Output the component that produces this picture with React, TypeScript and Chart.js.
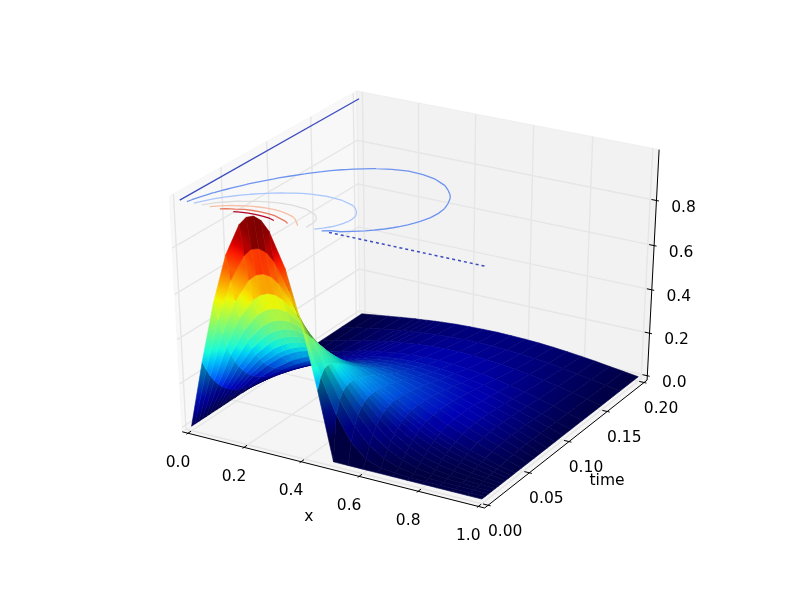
import React, { useEffect, useRef } from "react";
import { Chart, registerables } from "chart.js";
Chart.register(...registerables);

const xGrid = [0, .05, .1, .15, .2, .225, .25, .275, .3, .35, .4, .45, .5, .55, .6, .65, .7, .75, .8, .85, .9, .95, 1];
const timeGrid = [0, .004, .008, .012, .016, .02, .024, .028, .032, .036, .04, .048, .056, .064, .072, .08, .09, .1, .11, .125, .15, .175, .2];
const surface = [
  [0, .309, .588, .809, .951, .988, 1, .988, .951, .809, .588, .309, 0, 0, 0, 0, 0, 0, 0, 0, 0, 0, 0],
  [0, .264, .502, .690, .811, .844, .854, .845, .815, .701, .536, .358, .203, .094, .034, .011, .003, 0, 0, 0, 0, 0, 0],
  [0, .225, .429, .591, .696, .724, .736, .732, .711, .631, .514, .383, .258, .157, .085, .041, .017, .006, .002, .001, 0, 0, 0],
  [0, .193, .367, .507, .601, .628, .642, .643, .631, .576, .490, .388, .286, .196, .124, .073, .040, .020, .009, .004, .002, 0, 0],
  [0, .166, .317, .440, .524, .551, .566, .571, .566, .529, .465, .384, .299, .220, .152, .099, .060, .034, .018, .009, .004, .001, 0],
  [0, .144, .275, .384, .461, .487, .503, .511, .511, .487, .439, .376, .305, .235, .172, .120, .079, .049, .030, .017, .009, .004, 0],
  [0, .126, .242, .339, .410, .435, .452, .462, .465, .451, .415, .364, .305, .244, .187, .137, .096, .064, .041, .025, .014, .006, 0],
  [0, .111, .214, .301, .367, .391, .408, .419, .425, .418, .391, .350, .301, .248, .196, .150, .110, .077, .052, .033, .019, .009, 0],
  [0, .099, .191, .270, .331, .353, .371, .383, .390, .388, .369, .336, .295, .249, .203, .159, .121, .088, .062, .041, .025, .011, 0],
  [0, .088, .171, .243, .299, .321, .338, .351, .359, .361, .348, .322, .287, .247, .206, .166, .129, .097, .070, .048, .029, .014, 0],
  [0, .080, .155, .220, .273, .294, .311, .323, .332, .337, .328, .308, .279, .244, .207, .170, .136, .104, .077, .054, .034, .016, 0],
  [0, .066, .129, .184, .230, .249, .264, .277, .286, .296, .293, .281, .261, .235, .205, .174, .144, .114, .088, .063, .041, .020, 0],
  [0, .056, .109, .157, .197, .214, .229, .241, .250, .262, .263, .257, .242, .223, .199, .173, .146, .119, .093, .068, .045, .022, 0],
  [0, .048, .094, .136, .172, .187, .200, .212, .221, .234, .238, .235, .225, .210, .191, .169, .145, .120, .096, .071, .047, .023, 0],
  [0, .042, .082, .119, .151, .164, .177, .188, .197, .209, .215, .215, .208, .197, .181, .162, .141, .119, .095, .072, .048, .024, 0],
  [0, .037, .072, .105, .134, .146, .158, .167, .176, .189, .196, .197, .193, .184, .171, .155, .136, .115, .093, .071, .047, .024, 0],
  [0, .032, .062, .091, .116, .127, .138, .147, .155, .167, .174, .177, .175, .168, .158, .144, .128, .109, .089, .068, .046, .023, 0],
  [0, .028, .055, .080, .102, .112, .122, .130, .137, .149, .156, .159, .158, .153, .145, .133, .119, .102, .084, .064, .043, .022, 0],
  [0, .024, .048, .070, .090, .099, .108, .115, .122, .133, .140, .144, .143, .140, .133, .122, .110, .095, .078, .060, .041, .020, 0],
  [0, .020, .040, .059, .076, .084, .091, .097, .103, .113, .120, .123, .124, .121, .115, .107, .097, .084, .069, .053, .036, .018, 0],
  [0, .016, .031, .045, .058, .064, .070, .075, .079, .087, .093, .096, .097, .095, .091, .085, .077, .067, .056, .043, .029, .015, 0],
  [0, .012, .024, .035, .045, .050, .054, .058, .061, .067, .072, .075, .076, .074, .071, .067, .061, .053, .044, .034, .023, .012, 0],
  [0, .009, .018, .027, .035, .038, .042, .045, .048, .053, .056, .058, .059, .058, .056, .053, .048, .042, .035, .027, .018, .009, 0],
];
const xTicks = [0, .2, .4, .6, .8, 1];
const xTickLabels = ["0.0", "0.2", "0.4", "0.6", "0.8", "1.0"];
const timeTicks = [0, .05, .1, .15, .2];
const timeTickLabels = ["0.00", "0.05", "0.10", "0.15", "0.20"];
const zTicks = [0, .2, .4, .6, .8];
const zTickLabels = ["0.0", "0.2", "0.4", "0.6", "0.8"];
const contourLevels = [.15, .3, .45, .6, .75, .9];
const contourColors = ["#6f94f0", "#aac6fd", "#dddddd", "#f7bfa5", "#e9785d", "#b40426"];
const zeroContourColor = "#3b4cc0";

const TMAX = .2;
const PAD = 1 / 48;
type P = { x: number; y: number; depth: number };
// mplot3d style view: elevation 30, azimuth -60, distance 10
function projectN(a: number, b: number, c: number): P {
  const dx = a - .5, dy = b - .5, dz = c - .5;
  const X = .8660254 * dx + .5 * dy;
  const Y = -.25 * dx + .4330127 * dy + .8660254 * dz;
  const Z = .4330127 * dx - .75 * dy + .5 * dz - 10;
  return { x: X / -Z, y: Y / -Z, depth: Z };
}
const project = (x: number, t: number, z: number) => projectN(x, t / TMAX, z);

function ramp(v: number, pts: number[][]) {
  for (let i = 1; i < pts.length; i++) {
    if (v <= pts[i][0]) {
      const [a, fa] = pts[i - 1], [b, fb] = pts[i];
      return fa + (fb - fa) * (v - a) / (b - a);
    }
  }
  return pts[pts.length - 1][1];
}
function jet(v: number): number[] {
  return [
    ramp(v, [[0, 0], [.35, 0], [.66, 1], [.89, 1], [1, .5]]),
    ramp(v, [[0, 0], [.125, 0], [.375, 1], [.64, 1], [.91, 0], [1, 0]]),
    ramp(v, [[0, .5], [.11, 1], [.34, 1], [.65, 0], [1, 0]]),
  ];
}
function shade(v: number, f: number) {
  const c = jet(v);
  return `rgb(${Math.round(c[0] * 255 * f)},${Math.round(c[1] * 255 * f)},${Math.round(c[2] * 255 * f)})`;
}

const PXX = 620 / .185, PXY = 477.6 / .185;
function buildCells() {
  const cells: any[] = [];
  for (let r = timeGrid.length - 2; r >= 0; r--) {
    for (let c = 0; c < xGrid.length - 1; c++) {
      const x0 = xGrid[c], x1 = xGrid[c + 1], t0 = timeGrid[r], t1 = timeGrid[r + 1];
      const a = project(x0, t0, surface[r][c]);
      const b = project(x1, t0, surface[r][c + 1]);
      const d = project(x1, t1, surface[r + 1][c + 1]);
      const e = project(x0, t1, surface[r + 1][c]);
      const depth = (a.depth + b.depth + d.depth + e.depth) / 4;
      // colour follows the near edge of a band, as the banding in the reference does
      const k = .5 * (1 - .004 / (t1 - t0));
      const uL = surface[r][c] + (surface[r + 1][c] - surface[r][c]) * k;
      const uR = surface[r][c + 1] + (surface[r + 1][c + 1] - surface[r][c + 1]) * k;
      const vx = ((b.x + d.x - a.x - e.x) / 2) * PXX * (.01 / (x1 - x0));
      const vy = ((b.y + d.y - a.y - e.y) / 2) * PXY * (.01 / (x1 - x0));
      const wx = ((e.x + d.x - a.x - b.x) / 2) * PXX * (.004 / (t1 - t0));
      const wy = ((e.y + d.y - a.y - b.y) / 2) * PXY * (.004 / (t1 - t0));
      const area = Math.abs(vx * wy - vy * wx);
      const rise = Math.max(0, (surface[r + 1][c] + surface[r + 1][c + 1] - surface[r][c] - surface[r][c + 1]) / 2 / (t1 - t0));
      const slope = Math.abs(surface[r][c + 1] - surface[r][c]) / (x1 - x0);
      cells.push({ a, b, d, e, depth, uL, uR, area, rise, slope });
    }
  }
  cells.sort((p, q) => q.depth - p.depth); // nearest first: Chart.js paints index 0 last
  return cells;
}

function cellPaint(chart: any, cell: any) {
  if (cell.paint) return cell.paint;
  const sx = chart.scales.x, sy = chart.scales.y;
  const um = (cell.uL + cell.uR) / 2;
  let f = Math.min(1, .6 + 1.6 * um) * (.55 + .45 * cell.area / (cell.area + 3));
  f /= 1 + .09 * Math.min(cell.rise, 6);
  if (um < .3) f *= 1 - .35 * (1 - um / .3) * Math.min(1, cell.slope / 3);
  f = Math.max(f, .5);
  const x0 = sx.getPixelForValue((cell.a.x + cell.e.x) / 2), y0 = sy.getPixelForValue((cell.a.y + cell.e.y) / 2);
  const x1 = sx.getPixelForValue((cell.b.x + cell.d.x) / 2), y1 = sy.getPixelForValue((cell.b.y + cell.d.y) / 2);
  if (![x0, y0, x1, y1].every(Number.isFinite)) return shade(um, f);
  if (Math.hypot(x1 - x0, y1 - y0) < .05) {
    cell.paint = shade(um, f);
    return cell.paint;
  }
  const g = chart.ctx.createLinearGradient(x0, y0, x1, y1);
  for (let i = 0; i <= 4; i++) g.addColorStop(i / 4, shade(cell.uL + (cell.uR - cell.uL) * i / 4, f));
  cell.paint = g;
  return g;
}

function marching(level: number) {
  const pts: { x: number; y: number }[] = [];
  for (let r = 0; r < timeGrid.length - 1; r++) {
    for (let c = 0; c < xGrid.length - 1; c++) {
      const corners = [
        [xGrid[c], timeGrid[r], surface[r][c]],
        [xGrid[c + 1], timeGrid[r], surface[r][c + 1]],
        [xGrid[c + 1], timeGrid[r + 1], surface[r + 1][c + 1]],
        [xGrid[c], timeGrid[r + 1], surface[r + 1][c]],
      ];
      const hits: number[][] = [];
      for (let i = 0; i < 4; i++) {
        const p = corners[i], q = corners[(i + 1) % 4];
        if ((p[2] < level) !== (q[2] < level)) {
          const k = (level - p[2]) / (q[2] - p[2]);
          hits.push([p[0] + (q[0] - p[0]) * k, p[1] + (q[1] - p[1]) * k]);
        }
      }
      for (let i = 0; i + 1 < hits.length; i += 2) {
        const A = project(hits[i][0], hits[i][1], 1), B = project(hits[i + 1][0], hits[i + 1][1], 1);
        pts.push({ x: A.x, y: A.y }, { x: B.x, y: B.y }, { x: NaN, y: NaN });
      }
    }
  }
  return pts;
}

const line = (label: string, pts: P[], color: string, width = 1, dash?: number[]) => ({
  type: "line", label, data: pts.map((p) => ({ x: p.x, y: p.y })), borderColor: color, borderWidth: width,
  borderDash: dash || [], pointRadius: 0, fill: false, clip: false, spanGaps: false,
});
const poly = (label: string, pts: P[], color: string) => ({
  type: "line", label, data: [...pts, pts[0]].map((p) => ({ x: p.x, y: p.y })), borderColor: color, borderWidth: 1,
  backgroundColor: color, pointRadius: 0, fill: "shape", clip: false,
});

function buildDatasets() {
  const lo = -PAD, hi = 1 + PAD;
  const cells = buildCells();
  const sets: any[] = cells.map((cell, i) => ({
    type: "line", label: `cell ${i}`,
    data: [cell.a, cell.b, cell.d, cell.e, cell.a].map((p: P) => ({ x: p.x, y: p.y })),
    backgroundColor: (c: any) => cellPaint(c.chart, cell),
    borderColor: (c: any) => cellPaint(c.chart, cell),
    borderWidth: .6, pointRadius: 0, fill: "shape", clip: false,
  }));

  contourLevels.forEach((lv, i) => {
    sets.push({ type: "line", label: `level ${lv}`, data: marching(lv), borderColor: contourColors[i], borderWidth: 1.3, pointRadius: 0, fill: false, clip: false, spanGaps: false });
  });
  sets.push(line("level 0 x", [project(0, 0, 1), project(0, TMAX, 1)], zeroContourColor, 1.3));
  sets.push(line("level 0 t", [project(.5, 0, 1), project(1, 0, 1)], zeroContourColor, 1.5, [3, 3]));

  // axis lines and ticks
  sets.push(line("x axis", [projectN(lo, lo, lo), projectN(hi, lo, lo)], "#000"));
  sets.push(line("time axis", [projectN(hi, lo, lo), projectN(hi, hi, lo)], "#000"));
  sets.push(line("z axis", [projectN(hi, hi, lo), projectN(hi, hi, hi)], "#000"));
  const d = 1 / 12;
  xTicks.forEach((v) => sets.push(line(`x tick ${v}`, [projectN(v, lo - .1 * d, lo), projectN(v, lo + .2 * d, lo)], "#000")));
  timeTicks.forEach((v) => sets.push(line(`t tick ${v}`, [projectN(hi + .1 * d, v / TMAX, lo), projectN(hi - .2 * d, v / TMAX, lo)], "#000")));
  zTicks.forEach((v) => sets.push(line(`z tick ${v}`, [projectN(hi + .1 * d, hi, v), projectN(hi - .2 * d, hi, v)], "#000")));

  // grid
  const G = "#e6e6e6";
  xTicks.forEach((v) => sets.push(line(`x grid ${v}`, [projectN(v, lo, lo), projectN(v, hi, lo), projectN(v, hi, hi)], G, 1.4)));
  timeTicks.forEach((v) => sets.push(line(`t grid ${v}`, [projectN(hi, v / TMAX, lo), projectN(lo, v / TMAX, lo), projectN(lo, v / TMAX, hi)], G, 1.4)));
  zTicks.forEach((v) => sets.push(line(`z grid ${v}`, [projectN(lo, lo, v), projectN(lo, hi, v), projectN(hi, hi, v)], G, 1.4)));

  // panes
  sets.push(poly("floor", [projectN(lo, lo, lo), projectN(hi, lo, lo), projectN(hi, hi, lo), projectN(lo, hi, lo)], "rgba(236,236,236,.5)"));
  sets.push(poly("back", [projectN(lo, hi, lo), projectN(hi, hi, lo), projectN(hi, hi, hi), projectN(lo, hi, hi)], "rgba(230,230,230,.5)"));
  sets.push(poly("left", [projectN(lo, lo, lo), projectN(lo, hi, lo), projectN(lo, hi, hi), projectN(lo, lo, hi)], "rgba(242,242,242,.5)"));
  return sets;
}

const labelsPlugin = {
  id: "axisText",
  afterDraw(chart: any) {
    const { ctx, scales } = chart;
    const X = (p: P) => scales.x.getPixelForValue(p.x), Y = (p: P) => scales.y.getPixelForValue(p.y);
    const lo = -PAD, hi = 1 + PAD;
    ctx.save();
    ctx.fillStyle = "#000";
    ctx.font = "15.5px 'DejaVu Sans'";
    ctx.textAlign = "center";
    ctx.textBaseline = "middle";
    xTicks.forEach((v, i) => {
      const p = projectN(v, lo, lo);
      ctx.fillText(xTickLabels[i], X(p) - 10, Y(p) + 29.5);
    });
    timeTicks.forEach((v, i) => {
      const p = projectN(hi, v / TMAX, lo);
      ctx.fillText(timeTickLabels[i], X(p) + 17, Y(p) + 26.5);
    });
    zTicks.forEach((v, i) => {
      const p = projectN(hi, hi, v);
      ctx.fillText(zTickLabels[i], X(p) + 27, Y(p) + 7);
    });
    const xl = projectN(.5, lo, lo), tl = projectN(hi, .5, lo);
    ctx.fillText("x", X(xl) - 21, Y(xl) + 48);
    ctx.fillText("time", X(tl) + 38, Y(tl) + 39);
    ctx.restore();
  },
};

export default function App() {
  const ref = useRef<HTMLCanvasElement>(null);
  useEffect(() => {
    const chart = new Chart(ref.current as HTMLCanvasElement, {
      type: "line",
      data: { datasets: buildDatasets() },
      options: {
        animation: false, responsive: false, events: [], devicePixelRatio: 1,
        layout: { padding: { left: 100, right: 80, top: 59.7, bottom: 59.7 } },
        scales: {
          x: { type: "linear", display: false, min: -.095, max: .09 },
          y: { type: "linear", display: false, min: -.095, max: .09 },
        },
        plugins: { legend: { display: false }, tooltip: { enabled: false } },
      },
      plugins: [labelsPlugin],
    } as any);
    return () => chart.destroy();
  }, []);
  return (
    <div style={{ position: "absolute", left: 0, top: 0, width: 800, height: 597, background: "#fff" }}>
      <canvas ref={ref} width={800} height={597} style={{ display: "block" }} />
    </div>
  );
}
